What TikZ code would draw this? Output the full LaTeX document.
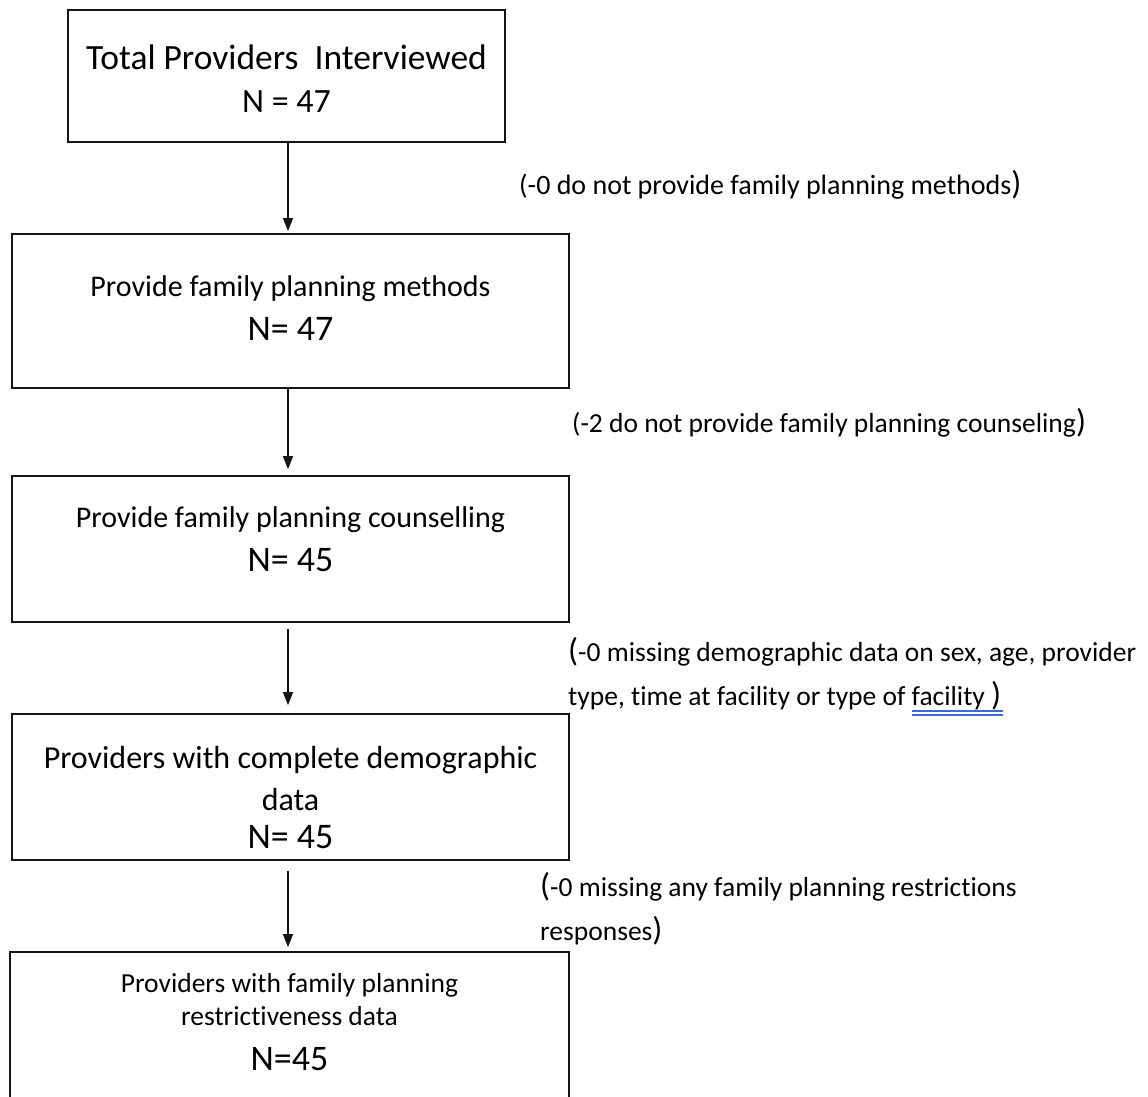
\documentclass[tikz,border=0pt]{standalone}
\usepackage{fontspec}
\setmainfont{Carlito}[Ligatures=NoCommon]
\usepackage{xcolor}
\usetikzlibrary{positioning,arrows.meta}
\definecolor{boxblack}{RGB}{20,20,20}
\definecolor{markblue}{RGB}{60,105,215}
\newcommand{\fs}[1]{\fontsize{#1}{#1}\selectfont}
\newcommand{\fsk}[2]{\fontsize{#1}{#2}\selectfont}
\tikzset{
  stage-box/.style={draw=boxblack, line width=1.8pt, minimum width=557pt,
    minimum height=146pt, inner sep=0pt},
  stage-text/.style={anchor=north, align=center, inner sep=0pt, text=black},
  flow-arrow/.style={-{Triangle[length=13pt,width=10pt]}, line width=1.4pt, draw=boxblack},
  drop-note/.style={align=left, inner sep=0pt, font=\fsk{27.5}{44}},
  spell-mark/.style={draw=markblue, line width=1.2pt}
}
\begin{document}
\begin{tikzpicture}[x=1pt,y=-1pt]
\useasboundingbox (0,0) rectangle (1148,1097);
% stage boxes
\node[stage-box, minimum width=437pt, minimum height=132pt] (total) at (286.5,76) {};
\node[stage-box, minimum height=154pt] (methods) at (290.5,311) {};
\node[stage-box] (counsel) at (290.5,549) {};
\node[stage-box] (demog) at (290.5,787) {};
\node[stage-box, minimum width=559pt, minimum height=160pt] (restrict) at (289.5,1032) {};
% box texts
\node[stage-text, font=\fsk{35.5}{43}, yshift=-36pt] (total-text) at (total.north)
  {Total Providers\ \ Interviewed\\{\fs{34}N = 47}};
\node[stage-text, font=\fsk{30}{44}, yshift=-42pt] (methods-text) at (methods.north)
  {Provide family planning methods\\{\fs{36}N= 47}};
\node[stage-text, font=\fsk{30}{44}, yshift=-31pt] (counsel-text) at (counsel.north)
  {Provide family planning counselling\\{\fs{36}N= 45}};
\node[stage-text, font=\fsk{32}{42}, yshift=-33pt] (demog-text) at (demog.north)
  {Providers with complete demographic\\data\\[-4pt]{\fs{36}N= 45}};
\node[stage-text, font=\fsk{27.5}{33}, yshift=-22pt] (restrict-text) at (restrict.north)
  {Providers with family planning\\restrictiveness data\\[12pt]{\fs{36}N=45}};
% arrows
\draw[flow-arrow, shorten >=2pt] ([xshift=1.5pt]total.south) -- ([xshift=-2.5pt]methods.north);
\draw[flow-arrow, shorten >=6pt] ([xshift=-2.5pt]methods.south) -- ([xshift=-2.5pt]counsel.north);
\draw[flow-arrow, shorten <=6pt, shorten >=8pt] ([xshift=-2.5pt]counsel.south) -- ([xshift=-2.5pt]demog.north);
\draw[flow-arrow, shorten <=10pt, shorten >=4pt] ([xshift=-2.5pt]demog.south) -- ([xshift=-1.5pt]restrict.north);
% exclusion notes
\node[drop-note, anchor=base west, font=\fsk{28}{44}] (note-methods) at (519,194)
  {(-0 do not provide family planning methods{\fs{33})}};
\node[drop-note, anchor=base west] (note-counsel) at (572,432)
  {(-2 do not provide family planning counseling{\fs{33})}};
\node[drop-note, anchor=north west] (note-demog) at (568,637)
  {{\fs{33}(}-0 missing demographic data on sex, age, provider\\
   type, time at facility or type of facility {\fs{33})}};
\node[drop-note, anchor=north west] (note-restrict) at (540,872)
  {{\fs{33}(}-0 missing any family planning restrictions\\
   responses{\fs{33})}};
\draw[spell-mark] (912,711) -- (1003,711);
\draw[spell-mark] (912,715) -- (1003,715);
\end{tikzpicture}
\end{document}
